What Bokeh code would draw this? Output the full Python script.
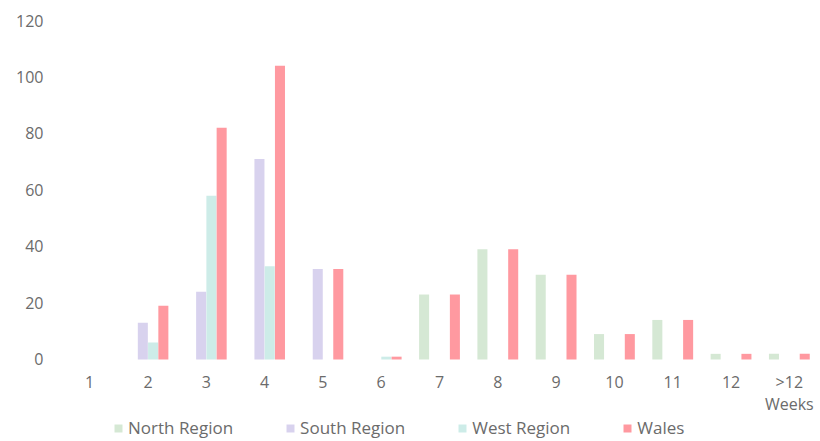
from bokeh.plotting import figure
from bokeh.models import ColumnDataSource, FactorRange, Legend, LegendItem, FixedTicker, Range1d
from bokeh.transform import dodge
from bokeh.embed import file_html
from bokeh.resources import INLINE

weeks = ["1", "2", "3", "4", "5", "6", "7", "8", "9", "10", "11", "12", ">12\nWeeks"]
north = [0, 0, 0, 0, 0, 0, 23, 39, 30, 9, 14, 2, 2]
south = [0, 13, 24, 71, 32, 0, 0, 0, 0, 0, 0, 0, 0]
west = [0, 6, 58, 33, 0, 1, 0, 0, 0, 0, 0, 0, 0]
wales = [0, 19, 82, 104, 32, 1, 23, 39, 30, 9, 14, 2, 2]
series_names = ["North Region", "South Region", "West Region", "Wales"]
colors = ["#d5e8d4", "#d8d2ee", "#cdece8", "#ff99a0"]
y_ticks = [0, 20, 40, 60, 80, 100, 120]

src = ColumnDataSource(dict(weeks=weeks, north=north, south=south, west=west, wales=wales))

FONT = "Open Sans"
TXT = "#6b6b6b"

# frame spans the whole lower area; y=0 sits 82px above the bottom edge
p = figure(x_range=FactorRange(*weeks, range_padding=0), y_range=Range1d(-29.03, 120),
           width=820, height=441, min_border_left=60, min_border_top=20,
           min_border_right=2, min_border_bottom=0,
           output_backend="svg", toolbar_location=None)

offsets = [-0.264, -0.088, 0.088, 0.264]
cols = ["north", "south", "west", "wales"]
renderers = []
for c, off, col in zip(cols, offsets, colors):
    r = p.vbar(x=dodge("weeks", off, range=p.x_range), top=c, width=0.172, source=src,
               fill_color=col, line_color=None)
    renderers.append(r)

p.xgrid.visible = False
p.ygrid.visible = False
p.outline_line_color = None

for ax in (p.xaxis, p.yaxis):
    ax.axis_line_color = None
    ax.major_tick_line_color = None
    ax.minor_tick_line_color = None
    ax.major_tick_out = 0
    ax.major_tick_in = 0
    ax.major_label_text_font = FONT
    ax.major_label_text_color = TXT
    ax.major_label_text_font_size = "16px"

p.yaxis.ticker = FixedTicker(ticks=y_ticks)
p.yaxis.major_label_standoff = 17
p.xaxis.fixed_location = 0
p.xaxis.major_label_standoff = 12
p.xaxis.major_label_text_line_height = 1.0

legend = Legend(items=[LegendItem(label=n, renderers=[r]) for n, r in zip(series_names, renderers)],
                orientation="horizontal", location=(53, 2),
                label_text_font=FONT, label_text_color=TXT, label_text_font_size="17px",
                glyph_width=10, glyph_height=10, label_standoff=5, spacing=52,
                border_line_color=None, background_fill_alpha=0, padding=0, margin=0)
p.add_layout(legend, "center")

open("out.html", "w").write(file_html(p, INLINE))
